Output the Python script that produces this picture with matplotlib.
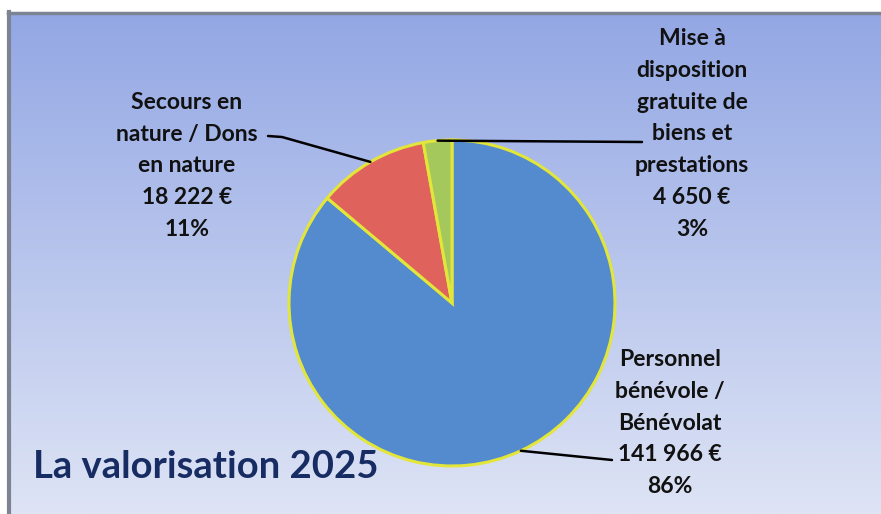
"""
Pie chart: La valorisation 2025 (valued contributions in kind).
"""
import numpy as np
import matplotlib
matplotlib.use("Agg")
import matplotlib.pyplot as plt
import matplotlib.colors as mcolors

# ---- Data ----
CATEGORIES = [
    "Personnel\nbénévole /\nBénévolat",
    "Secours en\nnature / Dons\nen nature",
    "Mise à\ndisposition\ngratuite de\nbiens et\nprestations",
]
VALUES = [141966, 18222, 4650]
COLORS = ["#548ACE", "#E0625C", "#A4C85C"]
TITLE = "La valorisation 2025"

W, H = 881, 514
plt.rcParams["font.family"] = ["Lato", "DejaVu Sans"]


def fmt_euro(v):
    return f"{v:,}".replace(",", " ") + " €"


def main():
    fig = plt.figure(figsize=(W / 100, H / 100), dpi=100, facecolor="white")
    ax = fig.add_axes([0, 0, 1, 1])

    # background gradient panel
    top = np.array(mcolors.to_rgb("#93A7E4"))
    bot = np.array(mcolors.to_rgb("#DEE4F5"))
    t = np.linspace(0, 1, 256)[:, None]
    grad = (top * (1 - t) + bot * t)[:, None, :]
    ax.imshow(grad, extent=[9, W, 0, H - 13], aspect="auto", zorder=0)
    ax.plot([9, 9], [0, H - 12], color="#7C8494", lw=3, zorder=1)
    ax.plot([8, W], [H - 13, H - 13], color="#7C8494", lw=2.5, zorder=1)

    # pie
    cx, cy, r = 452, 211, 163
    wedges, _ = ax.pie(VALUES, colors=COLORS, startangle=90, counterclock=False,
                       center=(cx, cy), radius=r,
                       wedgeprops={"edgecolor": "#E2E63A", "linewidth": 2.2})
    for w in wedges:
        w.set_zorder(3)

    total = sum(VALUES)
    # label text position + leader-line end point for each slice
    label_pos = [(670, H - 423), (187, H - 166), (692, H - 134)]
    line_end = [[(612, H - 460)], [(282, H - 137), (268, H - 136)],
                [(642, H - 142)]]

    for w, name, val, (tx, ty), ends in zip(wedges, CATEGORIES, VALUES,
                                             label_pos, line_end):
        mid = np.deg2rad((w.theta1 + w.theta2) / 2)
        ax_, ay_ = cx + r * np.cos(mid), cy + r * np.sin(mid)
        xs = [ax_] + [p[0] for p in ends]
        ys = [ay_] + [p[1] for p in ends]
        ax.plot(xs, ys, color="black", lw=1.8, zorder=4, solid_capstyle="round")
        pct = round(val / total * 100)
        ax.text(tx, ty, f"{name}\n{fmt_euro(val)}\n{pct}%", ha="center",
                va="center", fontsize=16.5, fontweight="bold", color="#111111",
                linespacing=1.63, zorder=5)

    ax.text(33, H - 467, TITLE, ha="left", va="center", fontsize=27.5,
            fontweight="bold", color="#172C62", zorder=5)

    ax.set_xlim(0, W)
    ax.set_ylim(0, H)
    ax.set_aspect("auto")
    ax.axis("off")
    fig.savefig("out.png", dpi=100, facecolor="white")
    plt.close()


if __name__ == "__main__":
    main()
